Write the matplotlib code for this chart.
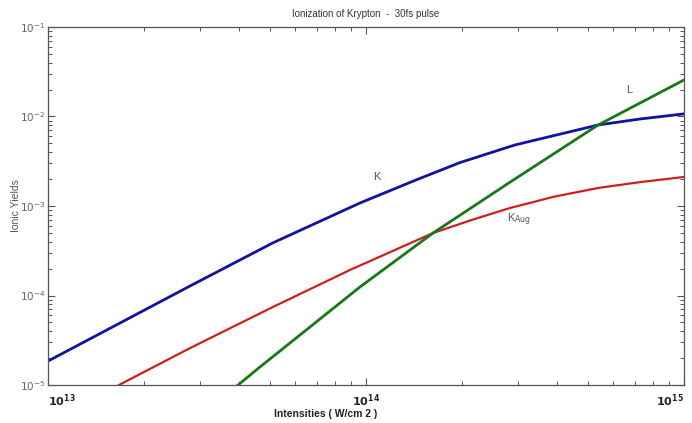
import numpy as np
import matplotlib
matplotlib.use('Agg')
from matplotlib import pyplot as plt
from matplotlib.ticker import LogLocator, NullFormatter, FixedLocator

plt.rcParams['font.family'] = ['Liberation Sans', 'DejaVu Sans']

# intensidades (W/cm2) y rendimientos
k_int = [1.0e13, 2.80e13, 5.10e13, 9.57e13, 1.445e14, 1.977e14, 2.94e14, 5.37e14, 7.28e14, 1.0e15]
k_yield = [1.85e-5, 1.28e-4, 3.88e-4, 1.08e-3, 1.97e-3, 3.06e-3, 4.81e-3, 8.04e-3, 9.38e-3, 1.07e-2]

kaug_int = [1.672e13, 2.80e13, 5.10e13, 8.91e13, 1.625e14, 2.17e14, 2.84e14, 3.9e14, 5.37e14, 7.28e14, 1.0e15]
kaug_yield = [1.0e-5, 2.59e-5, 7.45e-5, 1.93e-4, 4.99e-4, 7.06e-4, 9.51e-4, 1.27e-3, 1.59e-3, 1.85e-3, 2.11e-3]

l_int = [3.96e13, 4.64e13, 6.20e13, 9.57e13, 1.625e14, 2.84e14, 5.37e14, 1.0e15]
l_yield = [1.0e-5, 1.59e-5, 3.62e-5, 1.245e-4, 4.99e-4, 1.85e-3, 8.04e-3, 2.56e-2]

x_ticks = [1e13, 1e14, 1e15]
x_labels = [r'$\mathbf{10^{13}}$', r'$\mathbf{10^{14}}$', r'$\mathbf{10^{15}}$']
y_ticks = [1e-5, 1e-4, 1e-3, 1e-2, 1e-1]
y_labels = [r'$10^{-5}$', r'$10^{-4}$', r'$10^{-3}$', r'$10^{-2}$', r'$10^{-1}$']

fig = plt.figure(figsize=(6.92, 4.23), dpi=100)
ax = fig.add_axes([48/692, 1-385/423, 636/692, 358/423])

ax.plot(k_int, k_yield, color='#1212a0', lw=2.0)
ax.plot(kaug_int, kaug_yield, color='#cc2020', lw=1.6)
ax.plot(l_int, l_yield, color='#157a15', lw=2.0)

ax.set_xscale('log')
ax.set_yscale('log')
ax.set_xlim(1e13, 1e15)
ax.set_ylim(1e-5, 1e-1)

ax.xaxis.set_major_locator(FixedLocator(x_ticks))
ax.set_xticklabels(x_labels, fontsize=8, color='#222222')
for lab, ha in zip(ax.get_xticklabels(), ['left', 'center', 'right']):
    lab.set_ha(ha)
ax.yaxis.set_major_locator(FixedLocator(y_ticks))
ax.set_yticklabels(y_labels, fontsize=7.5, color='#666666')
ax.xaxis.set_minor_locator(LogLocator(base=10, subs=np.arange(2, 10)))
ax.yaxis.set_minor_locator(LogLocator(base=10, subs=np.arange(2, 10)))
ax.xaxis.set_minor_formatter(NullFormatter())
ax.yaxis.set_minor_formatter(NullFormatter())

ax.tick_params(which='both', direction='in', top=True, right=True, color='#555555')
ax.tick_params(which='major', length=5, width=0.8)
ax.tick_params(which='minor', length=3, width=0.7)
ax.tick_params(axis='x', pad=5)
ax.tick_params(axis='y', pad=2)
for s in ax.spines.values():
    s.set_color('#555555')
    s.set_linewidth(0.9)

ax.text(1.05e14, 1.95e-3, 'K', fontsize=8, color='#555555')
ax.text(6.6e14, 1.83e-2, 'L', fontsize=8, color='#555555')
ax.text(2.77e14, 6.6e-4, r'K$_{\mathrm{Aug}}$', fontsize=8, color='#555555')

fig.text(366/692, 1-14/423, 'Ionization of Krypton  -  30fs pulse', ha='center', va='center',
         fontsize=7, color='#333333')
fig.text(326/692, 1-414/423, 'Intensities ( W/cm 2 )', ha='center', va='center',
         fontsize=7.5, fontweight='bold', color='#222222')
fig.text(16/692, 1-206/423, 'Ionic Yields', ha='center', va='center', rotation=90,
         fontsize=7.5, color='#555555')

fig.savefig('out.png', dpi=100)
